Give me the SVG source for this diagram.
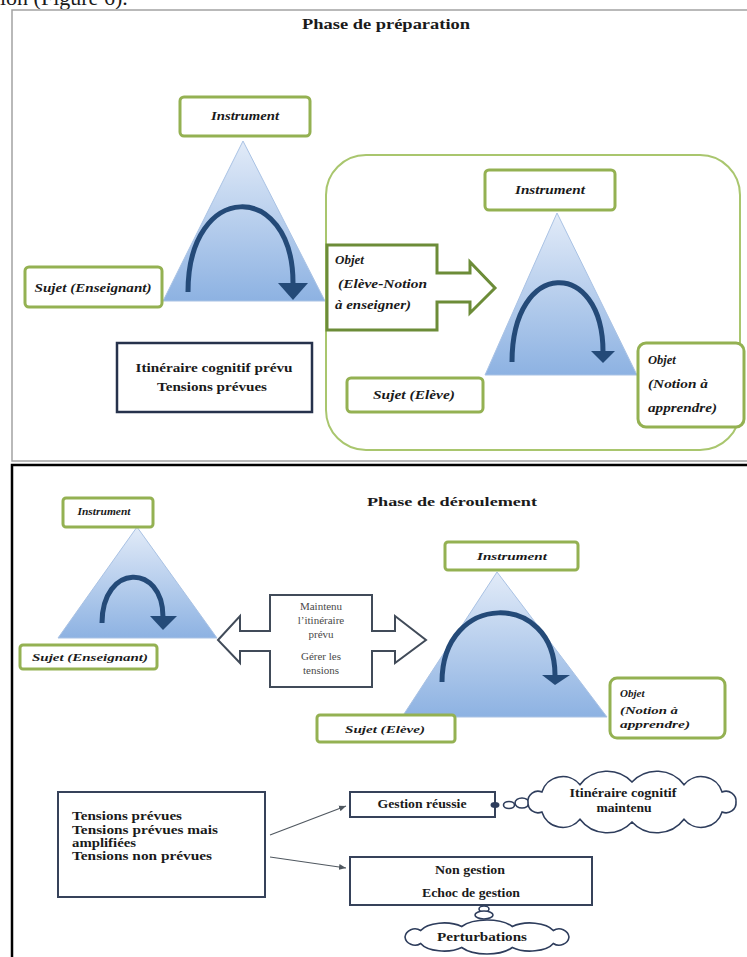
<svg xmlns="http://www.w3.org/2000/svg" width="747" height="957" viewBox="0 0 747 957">
<defs>
<linearGradient id="tri" x1="0" y1="0" x2="0" y2="1">
<stop offset="0" stop-color="#e2ebf8"/>
<stop offset="1" stop-color="#8db2e2"/>
</linearGradient>
<marker id="ah" markerWidth="8" markerHeight="8" refX="7" refY="4" orient="auto" markerUnits="userSpaceOnUse">
<path d="M0,1 L7,4 L0,7 Z" fill="#505860"/>
</marker>
</defs>
<style>
.t{font-family:"Liberation Serif","Times New Roman",serif;fill:#1a1a1a}
.bi{font-weight:bold;font-style:italic}
.b{font-weight:bold}
.gbox{fill:#fff;stroke:#94b152;stroke-width:3}
.tri{fill:url(#tri);stroke:#a9c2e4;stroke-width:1}
.arc{fill:none;stroke:#244a78;stroke-width:5}
.arch{fill:#244a78}
.nbox{fill:#fff;stroke:#36425a;stroke-width:2}
.cl{fill:#fff;stroke:#2e3d5c;stroke-width:1.6}
.conn{stroke:#505860;stroke-width:1.2;fill:none}
</style>
<rect width="747" height="957" fill="#fff"/>
<text class="t" x="0" y="5" font-size="22">ion (Figure 6).</text>

<g id="panel-preparation">
<rect x="12" y="10" width="745" height="451" fill="#fff" stroke="#a3a3a3" stroke-width="1.5"/>
<text class="t b" x="386" y="29" font-size="14" text-anchor="middle" textLength="168" lengthAdjust="spacingAndGlyphs">Phase de préparation</text>
</g>

<g id="tri1">
<polygon class="tri" points="243,141 163,301 325,301"/>
<path class="arc" d="M188,292 C188,180 293,180 293,283"/>
<polygon class="arch" points="278,283 308,283 293,300"/>
</g>
<g id="instrument1">
<rect class="gbox" x="180" y="97" width="130" height="39" rx="4"/>
<text class="t bi" x="245" y="120" font-size="12" text-anchor="middle" textLength="68" lengthAdjust="spacingAndGlyphs">Instrument</text>
</g>
<g id="sujet1">
<rect class="gbox" x="25" y="267" width="137" height="40" rx="4"/>
<text class="t bi" x="93" y="292" font-size="13" text-anchor="middle" textLength="117" lengthAdjust="spacingAndGlyphs">Sujet (Enseignant)</text>
</g>
<g id="itineraire">
<rect x="117" y="343" width="195" height="69" fill="#fff" stroke="#26324c" stroke-width="2.5"/>
<text class="t b" x="214" y="372" font-size="13" text-anchor="middle" textLength="157" lengthAdjust="spacingAndGlyphs">Itinéraire cognitif prévu</text>
<text class="t b" x="212" y="391" font-size="13" text-anchor="middle" textLength="110" lengthAdjust="spacingAndGlyphs">Tensions prévues</text>
</g>

<g id="eleve-activity">
<rect x="326" y="155" width="414" height="295" rx="40" fill="#fff" stroke="#a9c66e" stroke-width="2"/>
</g>
<g id="objet1">
<path d="M327,245 H437 V273 H470 V262 L495,288 L470,313 V302 H437 V330 H327 Z" fill="#fff" stroke="#6c8c38" stroke-width="3"/>
<text class="t bi" x="335" y="264" font-size="13">Objet</text>
<text class="t bi" x="338" y="288" font-size="13" textLength="89" lengthAdjust="spacingAndGlyphs">(Elève-Notion</text>
<text class="t bi" x="335" y="309" font-size="13" textLength="76" lengthAdjust="spacingAndGlyphs">à enseigner)</text>
</g>
<g id="tri2">
<polygon class="tri" points="557,213 485,375 637,375"/>
<path class="arc" d="M512,362 C512,258 603,258 603,352" stroke-width="4.5"/>
<polygon class="arch" points="591,351 615,351 603,363"/>
</g>
<g id="instrument2">
<rect class="gbox" x="485" y="170" width="130" height="40" rx="4"/>
<text class="t bi" x="550" y="194" font-size="12" text-anchor="middle" textLength="70" lengthAdjust="spacingAndGlyphs">Instrument</text>
</g>
<g id="sujet2">
<rect class="gbox" x="347" y="378" width="136" height="34" rx="4"/>
<text class="t bi" x="414" y="399" font-size="13" text-anchor="middle" textLength="82" lengthAdjust="spacingAndGlyphs">Sujet (Elève)</text>
</g>
<g id="objet2">
<rect class="gbox" x="638" y="343" width="106" height="84" rx="8"/>
<text class="t bi" x="648" y="364" font-size="12.5">Objet</text>
<text class="t bi" x="648" y="388" font-size="12.5" textLength="60" lengthAdjust="spacingAndGlyphs">(Notion à</text>
<text class="t bi" x="648" y="412" font-size="12.5" textLength="69" lengthAdjust="spacingAndGlyphs">apprendre)</text>
</g>

<g id="panel-deroulement">
<rect x="12" y="465" width="745" height="500" fill="#fff" stroke="#000" stroke-width="2.5"/>
<text class="t b" x="452" y="506" font-size="13" text-anchor="middle" textLength="170" lengthAdjust="spacingAndGlyphs">Phase de déroulement</text>
</g>

<g id="tri3">
<polygon class="tri" points="137,527 58,638 217,638"/>
<path class="arc" d="M102,623 C102,563 163,563 163,617" stroke-width="4"/>
<polygon class="arch" points="150,616 177,616 163,630"/>
</g>
<g id="instrument3">
<rect class="gbox" x="63" y="498" width="90" height="29" rx="3" stroke-width="2.5"/>
<text class="t bi" x="104" y="515" font-size="10" text-anchor="middle" textLength="53" lengthAdjust="spacingAndGlyphs">Instrument</text>
</g>
<g id="sujet3">
<rect class="gbox" x="20" y="645" width="137" height="24" rx="3" stroke-width="2.5"/>
<text class="t bi" x="90" y="661" font-size="11" text-anchor="middle" textLength="116" lengthAdjust="spacingAndGlyphs">Sujet (Enseignant)</text>
</g>
<g id="maintenir">
<path d="M218,640 L240,616 V631 H270 V595 H372 V631 H395 V616 L426,640 L395,663 V651 H372 V687 H270 V651 H240 V663 Z" fill="#fff" stroke="#414b59" stroke-width="2"/>
<g class="t" font-size="11" text-anchor="middle" style="fill:#4a4a4a">
<text x="321" y="610">Maintenu</text>
<text x="321" y="624">l’itinéraire</text>
<text x="321" y="638">prévu</text>
<text x="321" y="660">Gérer les</text>
<text x="321" y="674">tensions</text>
</g>
</g>
<g id="tri4">
<polygon class="tri" points="497,572 402,717 607,717"/>
<path class="arc" d="M442,682 C442,591 555,591 555,675"/>
<polygon class="arch" points="542,675 570,675 555,685"/>
</g>
<g id="instrument4">
<rect class="gbox" x="445" y="542" width="133" height="28" rx="3" stroke-width="2.5"/>
<text class="t bi" x="512" y="560" font-size="11" text-anchor="middle" textLength="70" lengthAdjust="spacingAndGlyphs">Instrument</text>
</g>
<g id="sujet4">
<rect class="gbox" x="317" y="715" width="138" height="27" rx="3" stroke-width="2.5"/>
<text class="t bi" x="385" y="733" font-size="11" text-anchor="middle" textLength="80" lengthAdjust="spacingAndGlyphs">Sujet (Elève)</text>
</g>
<g id="objet4">
<rect class="gbox" x="610" y="678" width="115" height="60" rx="7" stroke-width="2.5"/>
<text class="t bi" x="620" y="697" font-size="11">Objet</text>
<text class="t bi" x="620" y="714" font-size="11" textLength="58" lengthAdjust="spacingAndGlyphs">(Notion à</text>
<text class="t bi" x="620" y="728" font-size="11" textLength="70" lengthAdjust="spacingAndGlyphs">apprendre)</text>
</g>

<g id="tensions">
<rect class="nbox" x="58" y="792" width="207" height="105"/>
<text class="t b" x="72" y="820" font-size="11.5" textLength="110" lengthAdjust="spacingAndGlyphs">Tensions prévues</text>
<text class="t b" x="72" y="834" font-size="11.5" textLength="146" lengthAdjust="spacingAndGlyphs">Tensions prévues mais</text>
<text class="t b" x="72" y="847" font-size="11.5" textLength="64" lengthAdjust="spacingAndGlyphs">amplifiées</text>
<text class="t b" x="72" y="860" font-size="11.5" textLength="140" lengthAdjust="spacingAndGlyphs">Tensions non prévues</text>
</g>
<g id="gestion-reussie">
<rect class="nbox" x="350" y="792" width="145" height="25"/>
<text class="t b" x="422" y="808" font-size="11.5" text-anchor="middle" textLength="89" lengthAdjust="spacingAndGlyphs">Gestion réussie</text>
</g>
<g id="non-gestion">
<rect class="nbox" x="350" y="857" width="242" height="48"/>
<text class="t b" x="470" y="874" font-size="11.5" text-anchor="middle" textLength="70" lengthAdjust="spacingAndGlyphs">Non gestion</text>
<text class="t b" x="471" y="897" font-size="11.5" text-anchor="middle" textLength="98" lengthAdjust="spacingAndGlyphs">Echoc de gestion</text>
</g>
<g id="itineraire-maintenu">
<ellipse cx="495" cy="805" rx="4.5" ry="3" fill="#2e3d5c"/>
<ellipse class="cl" cx="509" cy="805" rx="5.5" ry="3.5"/>
<ellipse class="cl" cx="522" cy="803" rx="7" ry="5"/>
<path class="cl" d="M736,802 A10,10 0 0 1 722.1,812 A22,22 0 0 1 684,819.3 A34,34 0 0 1 632,822 A34,34 0 0 1 580,819.3 A22,22 0 0 1 541.9,812 A10,10 0 0 1 528,802 A10,10 0 0 1 541.9,792 A22,22 0 0 1 580,784.7 A34,34 0 0 1 632,782 A34,34 0 0 1 684,784.7 A22,22 0 0 1 722.1,792 A10,10 0 0 1 736,802 Z"/>
<text class="t b" x="623" y="797" font-size="11.5" text-anchor="middle" textLength="107" lengthAdjust="spacingAndGlyphs">Itinéraire cognitif</text>
<text class="t b" x="624" y="812" font-size="11.5" text-anchor="middle" textLength="55" lengthAdjust="spacingAndGlyphs">maintenu</text>
</g>
<g id="perturbations">
<ellipse class="cl" cx="484" cy="909" rx="5" ry="3"/>
<ellipse class="cl" cx="484" cy="915" rx="9" ry="4"/>
<path class="cl" d="M569,937 A10,9 0 0 1 553.3,943.5 A25,12 0 0 1 512.3,947.5 A30,14 0 0 1 461.7,947.5 A25,12 0 0 1 420.7,943.5 A10,9 0 0 1 405,937 A10,9 0 0 1 420.7,930.5 A25,12 0 0 1 461.7,926.5 A30,14 0 0 1 512.3,926.5 A25,12 0 0 1 553.3,930.5 A10,9 0 0 1 569,937 Z"/>
<text class="t b" x="482" y="941" font-size="11.5" text-anchor="middle" textLength="90" lengthAdjust="spacingAndGlyphs">Perturbations</text>
</g>

<g id="connectors">
<line class="conn" x1="270" y1="835" x2="346" y2="806" marker-end="url(#ah)"/>
<line class="conn" x1="270" y1="857" x2="346" y2="868" marker-end="url(#ah)"/>
</g>
</svg>
